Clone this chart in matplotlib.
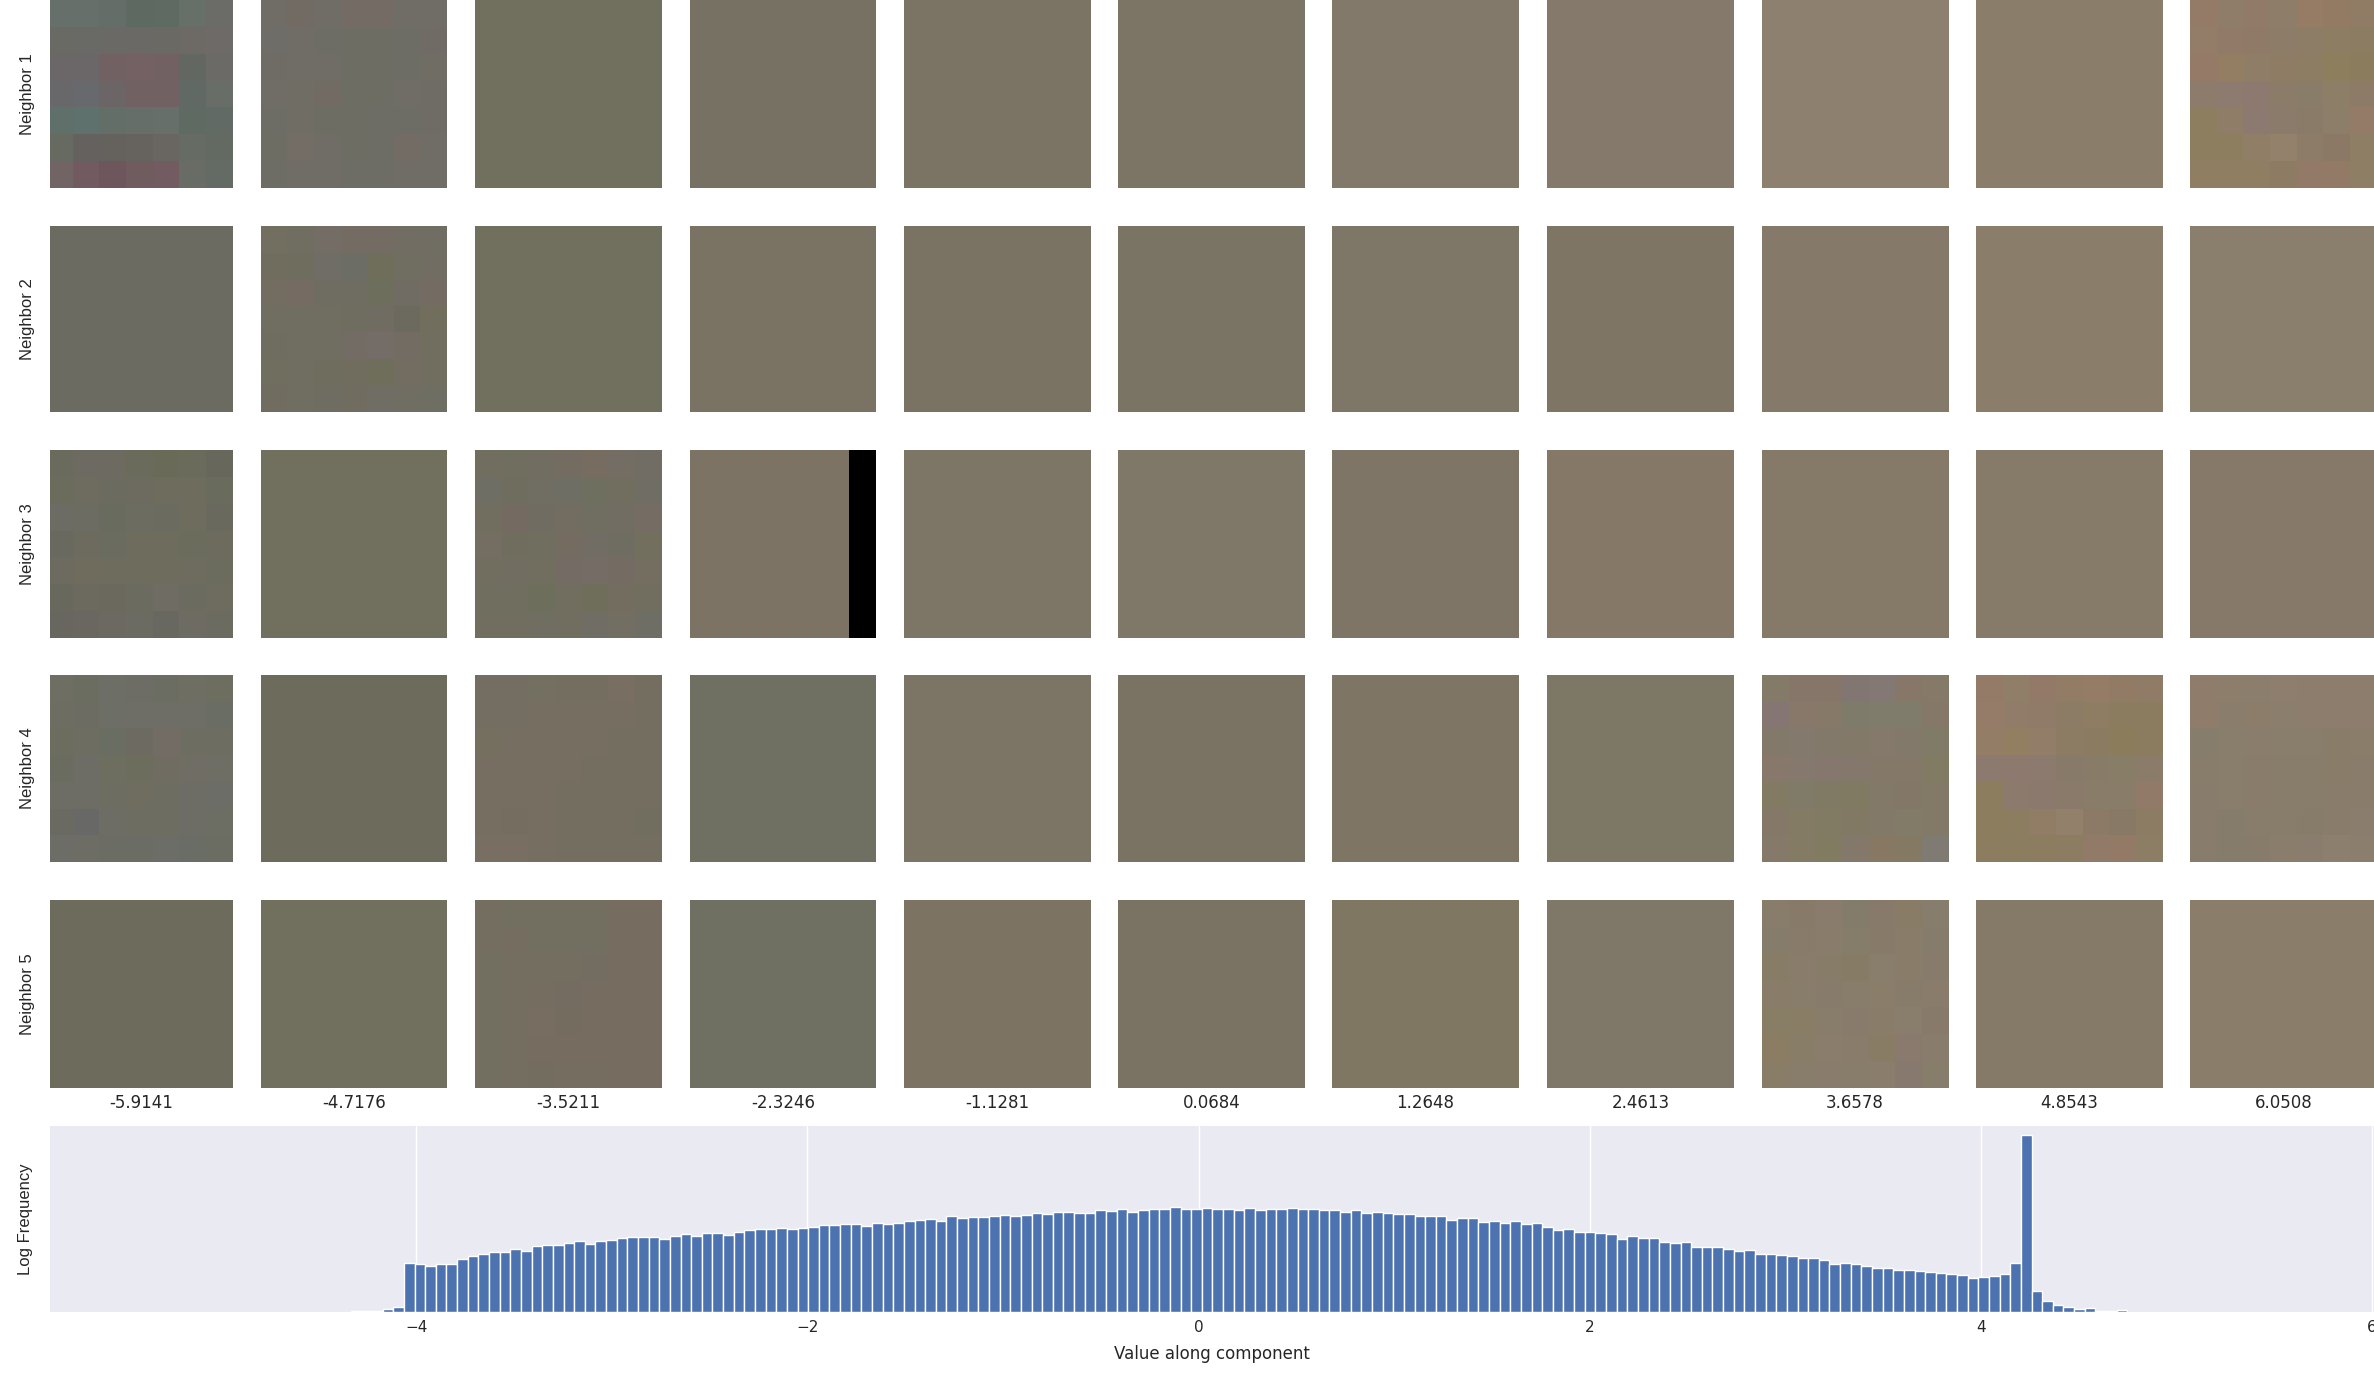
import numpy as np
import matplotlib
matplotlib.use("Agg")
import matplotlib.pyplot as plt
from matplotlib.colors import to_rgb

row_labels = ["Neighbor 1", "Neighbor 2", "Neighbor 3", "Neighbor 4", "Neighbor 5"]
value_labels = ["-5.9141", "-4.7176", "-3.5211", "-2.3246", "-1.1281", "0.0684",
                "1.2648", "2.4613", "3.6578", "4.8543", "6.0508"]

base_row1 = ["#6b6c66", "#706e68", "#71705f", "#767163", "#7b7364", "#7c7566", "#83796a", "#84796a", "#8e806e", "#8a7e6b", "#937f68"]
base_row2 = ["#6b6b62", "#716f62", "#71705f", "#7a7363", "#7a7364", "#7a7465", "#7e7666", "#7e7564", "#85796a", "#8a7e6b", "#8a7f6c"]
base_row3 = ["#6d6c5e", "#71705f", "#716e62", "#7c7364", "#7d7566", "#7f7768", "#7e7566", "#857867", "#857a68", "#867b69", "#87796a"]
base_row4 = ["#6e6e66", "#6d6b5c", "#737062", "#707062", "#7c7565", "#7a7262", "#7e7565", "#7d7766", "#857a69", "#8c7c66", "#8b7e6e"]
base_row5 = ["#6d6b5c", "#71705f", "#75705f", "#707062", "#7c7363", "#7a7262", "#807763", "#7f7768", "#877c6a", "#857968", "#8a7d6a"]
base_colors = [base_row1, base_row2, base_row3, base_row4, base_row5]

block_r0c0 = ["#66726c #65726d #62706a #5a6b60 #5c6d62 #67736c #6c6e68",
              "#6b6b66 #6a6a66 #6b6a66 #6b6a65 #6b6a64 #706a66 #706c68",
              "#6d6668 #6c6668 #775f63 #7a5f63 #775f62 #606760 #6c6c67",
              "#68686d #686a70 #6c656a #755f62 #755f62 #5f6a64 #69706a",
              "#5c726c #5c7570 #63716b #65716b #66736c #5b6b63 #5f6c65",
              "#666c60 #625f5c #645f5a #66605a #6a6560 #656d64 #606b62",
              "#776266 #75555e #70505a #74565d #775860 #686f66 #626c64"]
block_r0c1 = ["#706e68 #746a64 #706e68 #786a64 #7a6a66 #706e68 #706e66",
              "#6e6e6a #6f6d66 #6d6e66 #6c6e64 #6c6e64 #6e6d66 #716c66",
              "#706c68 #706d68 #6f6e66 #6e6d64 #6e6d64 #6e6e66 #716d66",
              "#706e66 #716d66 #746a62 #6e6e64 #6e6e64 #706e66 #706c66",
              "#6e6e66 #716d64 #6d6d64 #6d6d64 #6e6d66 #6e6d66 #6f6c66",
              "#6e6e64 #766e66 #6f6e68 #6c6e64 #6e6d66 #766c66 #706d66",
              "#6e6e66 #706e66 #6f6e66 #6e6e66 #6e6d66 #706e66 #706d66"]
block_r0c10 = ["#977b69 #917e6b #947a6b #8e7e69 #9a7c63 #967b62 #917d64",
               "#967c6a #947a6a #8f7868 #8c7d68 #8c7d66 #8b7e62 #8a7d60",
               "#99796a #967e62 #917e68 #8e7e64 #8c7e60 #8c7f5a #8a7c5a",
               "#8d7b70 #8d7b74 #8c7875 #8a7c6c #867d6a #8b7f68 #8d7b6a",
               "#8d7f5c #8f7e6a #8b7874 #8a7b6e #877b6a #8d7f6c #967b68",
               "#8d7f5d #8e7f5d #937f68 #96846f #8c7c6a #8a7866 #8e7f62",
               "#8f7f5f #8f7f5e #8f7f60 #8c7d62 #96796a #957a68 #8c7f64"]
block_r1c1 = ["#736f5f #716f60 #756e68 #786a66 #776c64 #726d66 #716d66",
              "#706e5e #6f6f5c #6f6e68 #696e68 #6c7054 #706e62 #726d66",
              "#736d60 #7a6a64 #6e6e64 #6e6e64 #6c7058 #706c66 #786b66",
              "#716f5f #716f5f #716e62 #6f6d60 #716c64 #68665c #746f5a",
              "#6f6e60 #716f60 #706f5f #746c68 #786c6a #766c66 #746f5e",
              "#6f6f5e #6f6f5f #6e6f5c #716e5e #6d6f56 #736d60 #726f60",
              "#716e60 #716f60 #6e6e64 #716e60 #706e68 #706e66 #6e6f66"]
block_r2c0 = ["#6b6b5c #6c6a64 #6c6a64 #6a6b58 #696a56 #6a6b58 #64655a",
              "#6d6d5c #6f6d60 #6d6b60 #6f6b60 #6e6e5c #6f6e5d #686b5d",
              "#6f6e68 #6c6e66 #6a6b60 #6e6d62 #6b6b62 #6e6d5d #68695c",
              "#696862 #6c6b5c #6b6e62 #6e6e5c #6e6e5c #6d6d5c #6c6c5c",
              "#6e6c60 #716d5c #706e5d #706e5d #706e5d #6e6e5e #6d6e5f",
              "#67665c #6d6a60 #6b685c #6d6c60 #716e66 #6d6c60 #6e6d5f",
              "#66645e #676560 #6b6862 #6b6b64 #686661 #6e6b65 #6d6c60"]
block_r2c2 = ["#716f5f #6f6f5c #736e62 #776a62 #7a6b60 #746d66 #716d66",
              "#6e6f68 #6e6f5c #6f6f65 #6e6f67 #6d705c #716f5f #6f6d66",
              "#716f5f #776864 #716c62 #746d62 #6f6f62 #736e65 #786b66",
              "#776e62 #6f6e5e #6f6f5c #766b60 #716d66 #6e6b62 #75705c",
              "#716f60 #716f62 #716f5f #766c66 #786c6a #776c64 #746f5f",
              "#706f5f #6f6f5e #6d6f5a #726f5e #6d6f58 #756d60 #716f60",
              "#716f60 #716f60 #6e6f62 #716f60 #706e68 #746f64 #6e6f66"]
block_r2c3 = ["#7c7364 #7c7364 #7c7364 #7c7364 #7c7364 #7c7364 #000000"] * 7
block_r3c0 = ["#6f6f62 #6c6d60 #6e6f66 #6f6e66 #6b6e64 #706f62 #70705f",
              "#6e6e60 #6c6c62 #6e6f68 #6f6e68 #6f6e68 #706e68 #686d64",
              "#6c6d5c #6d6e62 #686d62 #6e6b60 #776c66 #706e60 #6f6e60",
              "#696c5c #6d6e68 #6d6e5e #6e6d5a #736c60 #726e66 #706f66",
              "#6d6e68 #6d6e68 #6f6d60 #6f6d5e #6f6d60 #6e6d66 #6c6d68",
              "#686964 #65666a #6d6e66 #6d6d62 #6d6d62 #6d6e66 #6c6d64",
              "#6e6e6a #6e6e68 #6b6d66 #6b6e66 #6b6e68 #696e66 #6b6e62"]
block_r3c2 = ["#736f62 #736f62 #737062 #736f60 #736f60 #7a6e62 #736f60",
              "#736f62 #736f62 #786e62 #786e62 #786e62 #786e62 #736f60",
              "#757060 #786e62 #786e62 #786e62 #786e62 #736f60 #736f60",
              "#786e62 #786e62 #786e62 #786e62 #736f60 #736f60 #736f60",
              "#786e62 #786e62 #786e62 #736f60 #736f60 #736f60 #736f60",
              "#786e62 #786d62 #786e62 #736f60 #736f60 #736f60 #716f5f",
              "#7a6e62 #7a6e62 #766e62 #736f60 #736f60 #736f60 #736f60"]
block_r3c8 = ["#847c68 #87746a #87746a #81757a #83787a #88766a #877b66",
              "#87747a #8a786a #887a68 #7d7c6c #7e7e6e #7f7e6f #87786a",
              "#847a6c #837a70 #827a6c #847a6a #85796b #83796b #7f7c66",
              "#8b776e #87786e #877670 #85766e #85786a #857868 #817c62",
              "#847b62 #7e7c68 #7f7b62 #807b60 #827a68 #847868 #827a64",
              "#87776a #847d62 #807c62 #807a62 #837a6a #807d66 #837a66",
              "#867b6a #847c62 #807c5e #84786a #8a7762 #857b60 #7f7d78"]
block_r3c9 = ["#967b68 #937f6a #967a69 #967c66 #987c66 #937b65 #927c66",
              "#977c6b #937d6d #917b6b #8c7d65 #8e7d62 #8b7d5c #8a7c5c",
              "#977e68 #957f60 #947e69 #8c7d62 #8a7d5f #8b7d59 #8a7c5d",
              "#8b7a70 #8d7972 #8c7a72 #867a6a #867d69 #867e68 #8a7c6b",
              "#8c7e5d #8c7b70 #8c7872 #877a6c #877c69 #877c6a #947a6a",
              "#8c7e5c #8c7e5e #937e66 #95826e #8c7a68 #867968 #8b7d63",
              "#8c7e60 #8a7e5c #8c7e60 #8c7d60 #947a6a #967a66 #8c7f65"]
block_r3c10 = ["#917c6a #8d7f6c #8e7f6e #8f7f6e #8f7e6e #8f7e6e #8e7d6e",
               "#937c6a #8c7e6c #8d7e6c #8e7f6e #8e7e6e #8e7d6e #8e7d6e",
               "#867d6e #897e6c #8b7d6c #897d6b #897d6b #897d6a #8a7d6a",
               "#887d6c #897e6b #8a7c6b #887c6a #887c6a #897c69 #8a7c6a",
               "#887c6e #897d6c #897c6b #887c6a #887c6a #8a7c6a #8a7c6a",
               "#887c6e #857c6c #877c6c #887c6a #867c6a #8a7c6c #8b7e6e",
               "#887c6e #857c6c #867c6c #8a7e6c #8a7e6e #8d806e #8c7f6e"]
block_r4c2 = ["#736f60 #716f60 #726f60 #716f60 #716f60 #786c60 #786c60",
              "#736f60 #766e60 #716f60 #716f60 #716f60 #786c60 #786c60",
              "#716f60 #746f62 #746f62 #756f60 #726e60 #786c60 #786c60",
              "#716f60 #736f60 #766e60 #756c60 #786c60 #786c60 #786c60",
              "#716f60 #736f60 #786e60 #766c60 #786c60 #786c60 #786c60",
              "#716f60 #736f60 #786c60 #786c60 #786c60 #786c60 #786c60",
              "#716f60 #736f60 #736e60 #746e60 #766e60 #786c60 #786c60"]
block_r4c8 = ["#887d6c #867a68 #8a7d70 #817c6c #897a6c #897c66 #867e70",
              "#857c6c #887b6a #8a7c6c #847c6a #897a68 #8a7c68 #857c6e",
              "#877e66 #8a7c6a #877c68 #857c64 #8a7e6c #8a7c68 #877c6c",
              "#8a7c68 #897e6c #877c6c #887c6a #8c7e6a #867c6a #8a7c6c",
              "#897e62 #8a7e62 #897c6a #8a7b6c #8a7c68 #8a7e6c #897a6c",
              "#8c7e60 #887e64 #8c7e6e #8a7c6c #897c62 #8a7a70 #897e70",
              "#8c7e68 #897e6a #8c7c70 #897c6a #8c7e6c #887872 #877e6c"]
detail_blocks = {(0, 0): block_r0c0, (0, 1): block_r0c1, (0, 10): block_r0c10,
                 (1, 1): block_r1c1, (2, 0): block_r2c0, (2, 2): block_r2c2,
                 (2, 3): block_r2c3, (3, 0): block_r3c0, (3, 2): block_r3c2,
                 (3, 8): block_r3c8, (3, 9): block_r3c9, (3, 10): block_r3c10,
                 (4, 2): block_r4c2, (4, 8): block_r4c8}
block_contrast = {(0, 0): 0.7, (0, 1): 0.55, (0, 10): 0.65, (1, 1): 0.55, (2, 0): 0.6, (2, 2): 0.6,
                  (2, 3): 1.0, (3, 0): 0.6, (3, 2): 0.6, (3, 8): 0.6, (3, 9): 0.7, (3, 10): 0.7,
                  (4, 2): 0.7, (4, 8): 0.6}

tail_left = [2, 2, 3, 8, 14]
hist_part1 = [146, 143, 137, 143, 143, 158, 167, 173, 179, 179, 188, 182, 197, 200, 200, 206, 212, 203, 212, 215,
              221, 224, 224, 224, 218, 227, 233, 227, 236, 236, 230, 239, 245, 248, 248, 251, 248, 251, 254, 260]
hist_part2 = [260, 263, 263, 257, 266, 263, 266, 272, 275, 278, 272, 287, 281, 284, 284, 287, 290, 287, 290, 296, 293,
              299, 299, 296, 296, 305, 302, 308, 299, 305, 308, 308, 314, 308, 308, 311, 308, 308, 305, 311, 305, 308]
hist_part3 = [308, 311, 308, 308, 305, 305, 299, 305, 296, 299, 296, 293, 293, 287, 287, 287, 275, 281, 281, 269, 272,
              266, 272, 263, 266, 254, 245, 248, 239, 239, 236, 233, 218, 227, 221, 221, 209, 206, 209, 194, 194]
hist_part4 = [194, 188, 182, 185, 173, 173, 170, 167, 161, 161, 155, 143, 146, 143, 137, 131, 131, 125, 125, 122,
              119, 116, 113, 110, 101, 104, 107, 113, 146, 530, 62, 32, 20, 14, 8, 11, 3, 3, 7]
log_freq = tail_left + hist_part1 + hist_part2 + hist_part3 + hist_part4
hist_start = -4.3344
hist_width = 0.05439
hist_ticks = [-4, -2, 0, 2, 4, 6]

W, H = 2374, 1382
col_left = [50, 261, 475, 690, 904, 1118, 1332, 1547, 1762, 1976, 2190]
col_right = [233, 447, 662, 876, 1091, 1305, 1519, 1734, 1948, 2163, 2377]
row_top = [0, 226, 450, 675, 900]
row_bottom = [188, 412, 638, 862, 1088]

def px_axes(fig, l, t, r, b):
    return fig.add_axes([l / W, 1 - b / H, (r - l) / W, (b - t) / H])

plt.rcParams["font.family"] = ["DejaVu Sans"]
plt.rcParams["text.color"] = ".15"
fig = plt.figure(figsize=(W / 100, H / 100), dpi=100, facecolor="white")

for r in range(5):
    for c in range(11):
        ax = px_axes(fig, col_left[c], row_top[r], col_right[c], row_bottom[r])
        if (r, c) in detail_blocks:
            img = np.array([[to_rgb(h) for h in line.split()] for line in detail_blocks[(r, c)]])
            k = block_contrast[(r, c)]
            if k < 1:
                mean = img.mean(axis=(0, 1), keepdims=True)
                img = mean + (img - mean) * k
        else:
            img = np.array([[to_rgb(base_colors[r][c])] * 7] * 7)
        ax.imshow(img, interpolation="nearest", aspect="auto")
        if c == 0:
            ax.set_xlim(-0.5 + 4 / 26.7, 6.5)
        ax.set_xticks([])
        ax.set_yticks([])
        for s in ax.spines.values():
            s.set_visible(False)
        if c == 0:
            ax.set_ylabel(row_labels[r], family="Liberation Sans", fontsize=12, labelpad=11, color=".15")
        if r == 4:
            ax.set_xlabel(value_labels[c], fontsize=12, labelpad=4, color=".15")

hx = px_axes(fig, 50, 1126, 2374, 1312)
hx.set_facecolor("#EAEAF2")
for s in hx.spines.values():
    s.set_visible(False)
hx.set_axisbelow(True)
hx.grid(axis="x", color="white", linewidth=1)
lefts = hist_start + hist_width * np.arange(len(log_freq))
hx.bar(lefts, log_freq, width=hist_width, align="edge", color="#4C72B0", edgecolor="white", linewidth=1)
hx.set_xlim(-5.872, 6.01)
hx.set_ylim(0, 557)
hx.set_xticks(hist_ticks)
hx.set_yticks([])
hx.tick_params(axis="x", length=0, labelsize=11, pad=6, labelcolor=".15")
hx.set_xlabel("Value along component", fontsize=12, labelpad=7, color=".15")
hx.set_ylabel("Log Frequency", family="Liberation Sans", fontsize=12, labelpad=12, color=".15")

fig.savefig("out.png", dpi=100, facecolor="white")
